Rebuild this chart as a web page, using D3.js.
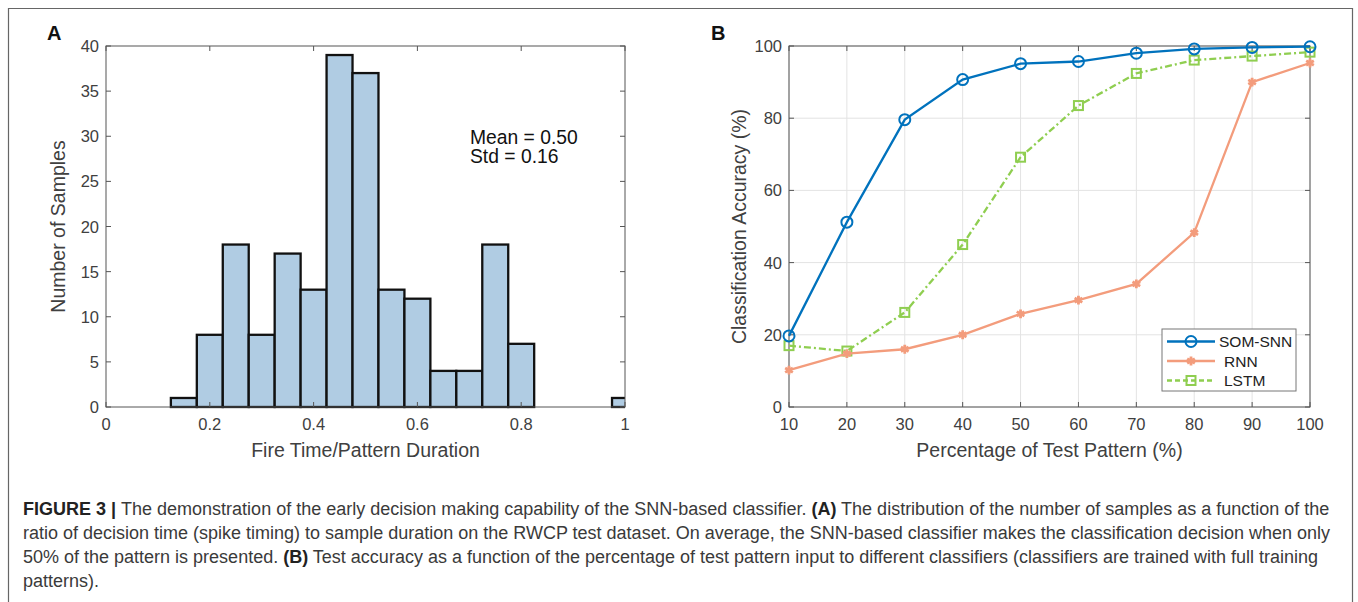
<!DOCTYPE html>
<html lang="en">
<head>
    <meta charset="UTF-8">
    <script src="https://cdnjs.cloudflare.com/ajax/libs/d3/7.8.5/d3.min.js"></script>
    <title>Figure 3</title>
    <style>
        body { margin: 0; background: #fff; }
        svg text { font-family: 'Liberation Sans', Arial, Helvetica, sans-serif; }
        .tick text { fill: #404040; font-size: 16.5px; }
        .axis-label { fill: #404040; font-size: 19.5px; }
        .caption { fill: #3a3a3a; font-size: 18px; }
    </style>
</head>
<body>
<svg id="fig" width="1358" height="602"></svg>
<script>
    // Panel A: histogram, bins centred on 0, 0.05, ... 1.0
    const binCenters = [0, 0.05, 0.1, 0.15, 0.2, 0.25, 0.3, 0.35, 0.4, 0.45, 0.5,
                        0.55, 0.6, 0.65, 0.7, 0.75, 0.8, 0.85, 0.9, 0.95, 1.0];
    const binCounts = [0, 0, 0, 1, 8, 18, 8, 17, 13, 39, 37, 13, 12, 4, 4, 18, 7, 0, 0, 0, 1];
    const binWidth = 0.05;
    const histXTicks = [0, 0.2, 0.4, 0.6, 0.8, 1];
    const histYTicks = [0, 5, 10, 15, 20, 25, 30, 35, 40];
    const statsText = ["Mean = 0.50", "Std = 0.16"];

    // Panel B: accuracy curves
    const pctPattern = [10, 20, 30, 40, 50, 60, 70, 80, 90, 100];
    const somSnn = [19.7, 51.2, 79.6, 90.7, 95.1, 95.7, 98.0, 99.2, 99.6, 99.8];
    const rnn = [10.2, 14.8, 16.0, 20.0, 25.8, 29.6, 34.1, 48.3, 90.0, 95.3];
    const lstm = [17.0, 15.5, 26.2, 45.0, 69.2, 83.5, 92.4, 96.1, 97.2, 98.3];
    const accXTicks = [10, 20, 30, 40, 50, 60, 70, 80, 90, 100];
    const accYTicks = [0, 20, 40, 60, 80, 100];

    const captionLines = [
        [["FIGURE 3 | ", true], ["The demonstration of the early decision making capability of the SNN-based classifier. ", false], ["(A)", true], [" The distribution of the number of samples as a function of the", false]],
        [["ratio of decision time (spike timing) to sample duration on the RWCP test dataset. On average, the SNN-based classifier makes the classification decision when only", false]],
        [["50% of the pattern is presented. ", false], ["(B)", true], [" Test accuracy as a function of the percentage of test pattern input to different classifiers (classifiers are trained with full training", false]],
        [["patterns).", false]]
    ];

    const svg = d3.select("#fig");
    const axisColor = "#555";

    // outer frame
    svg.append("path")
        .attr("d", "M8.5,602 V8.5 H1352.5 V602")
        .attr("fill", "none").attr("stroke", "#666").attr("stroke-width", 1.2);

    // draw a MATLAB-like boxed axis with inward ticks
    function drawBox(g, x, y, xTicks, yTicks, xFmt, yFmt) {
        const [x0, x1] = x.range();
        const [y0, y1] = y.range();
        const tl = 5;
        xTicks.forEach(t => {
            g.append("line").attr("x1", x(t)).attr("x2", x(t)).attr("y1", y0).attr("y2", y0 - tl)
                .attr("stroke", axisColor);
            g.append("line").attr("x1", x(t)).attr("x2", x(t)).attr("y1", y1).attr("y2", y1 + tl)
                .attr("stroke", axisColor);
        });
        yTicks.forEach(t => {
            g.append("line").attr("x1", x0).attr("x2", x0 + tl).attr("y1", y(t)).attr("y2", y(t))
                .attr("stroke", axisColor);
            g.append("line").attr("x1", x1).attr("x2", x1 - tl).attr("y1", y(t)).attr("y2", y(t))
                .attr("stroke", axisColor);
        });
        g.append("rect").attr("x", x0).attr("y", y1).attr("width", x1 - x0).attr("height", y0 - y1)
            .attr("fill", "none").attr("stroke", axisColor).attr("stroke-width", 1);

        const xa = g.append("g").attr("class", "tick");
        xa.selectAll("text").data(xTicks).join("text")
            .attr("x", d => x(d)).attr("y", y0 + 23)
            .attr("text-anchor", "middle").text(xFmt);
        const ya = g.append("g").attr("class", "tick");
        ya.selectAll("text").data(yTicks).join("text")
            .attr("x", x0 - 7).attr("y", d => y(d) + 6)
            .attr("text-anchor", "end").text(yFmt);
    }

    // ---------- Panel A ----------
    const xA = d3.scaleLinear().domain([0, 1]).range([106, 625]);
    const yA = d3.scaleLinear().domain([0, 40]).range([407, 46]);
    const gA = svg.append("g");

    gA.append("clipPath").attr("id", "clipA").append("rect")
        .attr("x", xA(0)).attr("y", yA(40) - 2).attr("width", xA(1) - xA(0)).attr("height", yA(0) - yA(40) + 4);

    gA.append("g").attr("clip-path", "url(#clipA)")
        .selectAll("rect").data(binCenters).join("rect")
        .attr("x", (d) => xA(d - binWidth / 2))
        .attr("width", xA(binWidth) - xA(0))
        .attr("y", (d, i) => yA(binCounts[i]))
        .attr("height", (d, i) => yA(0) - yA(binCounts[i]))
        .attr("fill", "#b0cce3")
        .attr("stroke", "#111")
        .attr("stroke-width", 2.3);

    drawBox(gA, xA, yA, histXTicks, histYTicks, d => d3.format("")(d), d => d);

    gA.append("text").attr("class", "axis-label")
        .attr("x", (xA(0) + xA(1)) / 2).attr("y", 457).attr("text-anchor", "middle")
        .text("Fire Time/Pattern Duration");
    gA.append("text").attr("class", "axis-label")
        .attr("transform", `translate(65,${(yA(0) + yA(40)) / 2}) rotate(-90)`)
        .attr("text-anchor", "middle").text("Number of Samples");
    gA.selectAll(".stats").data(statsText).join("text")
        .attr("class", "stats")
        .attr("x", 470).attr("y", (d, i) => 144 + i * 19)
        .attr("font-size", 19.3).attr("fill", "#111").text(d => d);
    gA.append("text").attr("x", 47).attr("y", 40).attr("font-size", 20)
        .attr("font-weight", "bold").attr("fill", "#111").text("A");

    // ---------- Panel B ----------
    const xB = d3.scaleLinear().domain([10, 100]).range([789, 1310]);
    const yB = d3.scaleLinear().domain([0, 100]).range([407, 46]);
    const gB = svg.append("g");

    // grid
    gB.append("g").selectAll("line").data(accXTicks).join("line")
        .attr("x1", d => xB(d)).attr("x2", d => xB(d)).attr("y1", yB(0)).attr("y2", yB(100))
        .attr("stroke", "#e3e3e3");
    gB.append("g").selectAll("line").data(accYTicks).join("line")
        .attr("x1", xB(10)).attr("x2", xB(100)).attr("y1", d => yB(d)).attr("y2", d => yB(d))
        .attr("stroke", "#e3e3e3");

    drawBox(gB, xB, yB, accXTicks, accYTicks, d => d, d => d);

    const series = [
        { name: "SOM-SNN", values: somSnn, color: "#0072bd", dash: null, marker: "circle" },
        { name: "RNN", values: rnn, color: "#f39c7c", dash: null, marker: "asterisk" },
        { name: "LSTM", values: lstm, color: "#8fce50", dash: "7,3,2,3", marker: "square" }
    ];

    const line = d3.line().x((d, i) => xB(pctPattern[i])).y(d => yB(d));

    function drawMarker(g, type, color, cx, cy) {
        if (type === "circle") {
            g.append("circle").attr("cx", cx).attr("cy", cy).attr("r", 5.5)
                .attr("fill", "none").attr("stroke", color).attr("stroke-width", 2);
        } else if (type === "square") {
            g.append("rect").attr("x", cx - 4.5).attr("y", cy - 4.5).attr("width", 9).attr("height", 9)
                .attr("fill", "none").attr("stroke", color).attr("stroke-width", 2);
        } else {
            g.append("path").attr("transform", `translate(${cx},${cy})`)
                .attr("d", d3.symbol().type(d3.symbolAsterisk).size(55)())
                .attr("fill", "none").attr("stroke", color).attr("stroke-width", 2.8);
        }
    }

    // draw in order LSTM, RNN, SOM-SNN so blue ends on top
    [series[2], series[1], series[0]].forEach(s => {
        gB.append("path").datum(s.values)
            .attr("d", line).attr("fill", "none")
            .attr("stroke", s.color).attr("stroke-width", 2.3)
            .attr("stroke-dasharray", s.dash);
        const mg = gB.append("g");
        s.values.forEach((v, i) => drawMarker(mg, s.marker, s.color, xB(pctPattern[i]), yB(v)));
    });

    gB.append("text").attr("class", "axis-label")
        .attr("x", (xB(10) + xB(100)) / 2).attr("y", 457).attr("text-anchor", "middle")
        .text("Percentage of Test Pattern (%)");
    gB.append("text").attr("class", "axis-label")
        .attr("transform", `translate(746,${(yB(0) + yB(100)) / 2}) rotate(-90)`)
        .attr("text-anchor", "middle").text("Classification Accuracy (%)");
    gB.append("text").attr("x", 711).attr("y", 40).attr("font-size", 20)
        .attr("font-weight", "bold").attr("fill", "#111").text("B");

    // legend
    const leg = gB.append("g").attr("transform", "translate(1162,329)");
    leg.append("rect").attr("width", 134).attr("height", 62)
        .attr("fill", "#fff").attr("stroke", "#777").attr("stroke-width", 1);
    series.forEach((s, i) => {
        const yy = 12.5 + i * 19.5;
        leg.append("line").attr("x1", 5).attr("x2", 53).attr("y1", yy).attr("y2", yy)
            .attr("stroke", s.color).attr("stroke-width", 2.3)
            .attr("stroke-dasharray", s.dash ? "5,3" : null);
        drawMarker(leg, s.marker, s.color, 29, yy);
        leg.append("text").attr("x", i === 0 ? 57 : 62).attr("y", yy + 5.5)
            .attr("font-size", 15.5).attr("fill", "#222").text(s.name);
    });

    // caption
    const cap = svg.append("g");
    captionLines.forEach((parts, i) => {
        const t = cap.append("text").attr("class", "caption")
            .attr("x", 23).attr("y", 515 + i * 24);
        parts.forEach(([str, bold]) => {
            t.append("tspan").attr("font-weight", bold ? "bold" : null)
                .attr("fill", bold ? "#222" : null).text(str);
        });
    });
</script>
</body>
</html>
